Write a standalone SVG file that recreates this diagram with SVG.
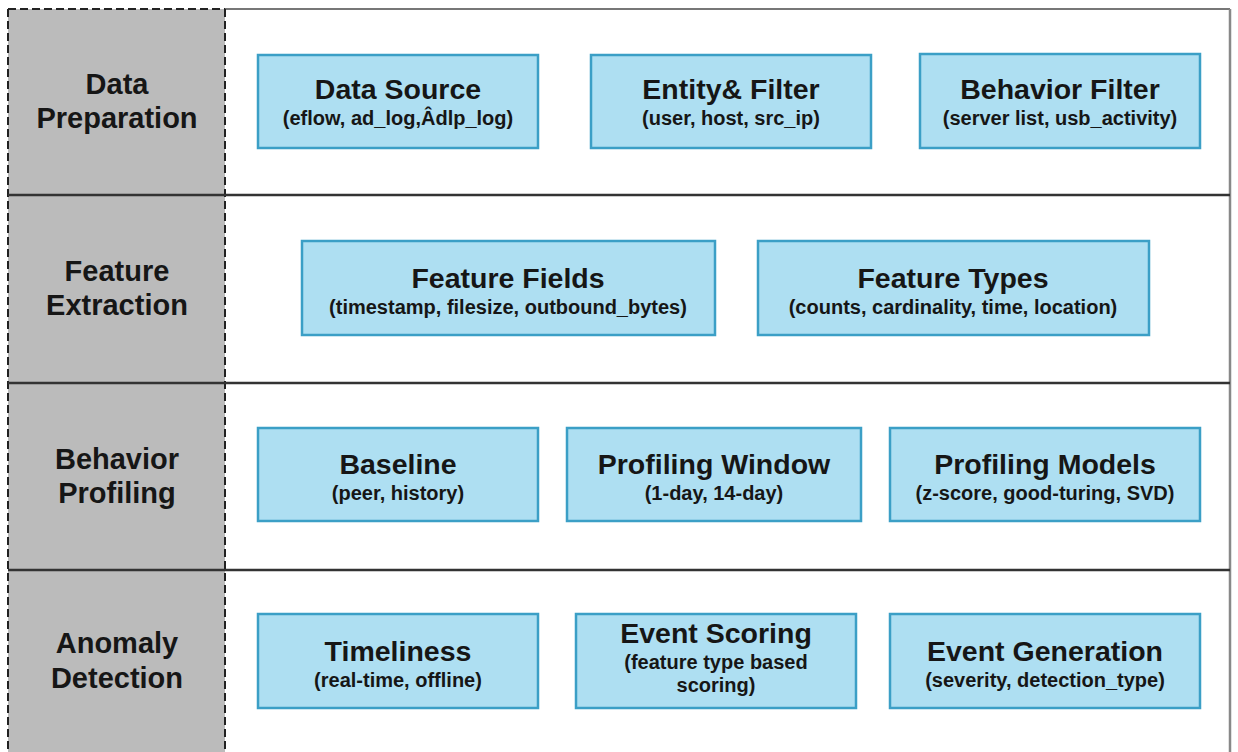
<svg xmlns="http://www.w3.org/2000/svg" width="1238" height="752" viewBox="0 0 1238 752">
<style>
.box{fill:#aedff2;stroke:#3b9fc6;stroke-width:2.5}
.t{font-family:"Liberation Sans",Arial,sans-serif;font-weight:bold;font-size:28.5px;fill:#161616;text-anchor:middle}
.s{font-family:"Liberation Sans",Arial,sans-serif;font-weight:bold;font-size:20px;fill:#161616;text-anchor:middle}
.lbl{font-family:"Liberation Sans",Arial,sans-serif;font-weight:bold;font-size:29px;fill:#161616;text-anchor:middle}
.div{stroke:#333;stroke-width:2.5}
</style>
<rect x="0" y="0" width="1238" height="752" fill="#ffffff"/>
<g id="frame">
<rect x="8" y="9" width="217" height="760" fill="#bbbbbb"/>
<line x1="225" y1="9" x2="1230" y2="9" stroke="#777" stroke-width="2"/>
<line x1="1230" y1="9" x2="1230" y2="752" stroke="#888" stroke-width="2.5"/>
<line x1="8" y1="9" x2="225" y2="9" stroke="#222" stroke-width="2" stroke-dasharray="8,4"/>
<line x1="8" y1="9" x2="8" y2="752" stroke="#222" stroke-width="2" stroke-dasharray="8,4"/>
<line x1="225" y1="9" x2="225" y2="752" stroke="#222" stroke-width="2" stroke-dasharray="8,4"/>
<line class="div" x1="8" y1="195" x2="1230" y2="195"/>
<line class="div" x1="8" y1="383" x2="1230" y2="383"/>
<line class="div" x1="8" y1="570" x2="1230" y2="570"/>
</g>
<g id="lane-labels">
<text class="lbl" x="117" y="94">Data</text>
<text class="lbl" x="117" y="128">Preparation</text>
<text class="lbl" x="117" y="281">Feature</text>
<text class="lbl" x="117" y="315">Extraction</text>
<text class="lbl" x="117" y="469">Behavior</text>
<text class="lbl" x="117" y="503">Profiling</text>
<text class="lbl" x="117" y="653">Anomaly</text>
<text class="lbl" x="117" y="688">Detection</text>
</g>
<g id="data-source">
<rect class="box" x="258" y="55" width="280" height="93"/>
<text class="t" x="398" y="99">Data Source</text>
<text class="s" x="398" y="125">(eflow, ad_log,Âdlp_log)</text>
</g>
<g id="entity-filter">
<rect class="box" x="591" y="55" width="280" height="93"/>
<text class="t" x="731" y="99">Entity&amp; Filter</text>
<text class="s" x="731" y="125">(user, host, src_ip)</text>
</g>
<g id="behavior-filter">
<rect class="box" x="920" y="54" width="280" height="94"/>
<text class="t" x="1060" y="99">Behavior Filter</text>
<text class="s" x="1060" y="125">(server list, usb_activity)</text>
</g>
<g id="feature-fields">
<rect class="box" x="302" y="241" width="413" height="94"/>
<text class="t" x="508" y="288">Feature Fields</text>
<text class="s" x="508" y="314">(timestamp, filesize, outbound_bytes)</text>
</g>
<g id="feature-types">
<rect class="box" x="758" y="241" width="391" height="94"/>
<text class="t" x="953" y="288">Feature Types</text>
<text class="s" x="953" y="314">(counts, cardinality, time, location)</text>
</g>
<g id="baseline">
<rect class="box" x="258" y="428" width="280" height="93"/>
<text class="t" x="398" y="474">Baseline</text>
<text class="s" x="398" y="500">(peer, history)</text>
</g>
<g id="profiling-window">
<rect class="box" x="567" y="428" width="294" height="93"/>
<text class="t" x="714" y="474">Profiling Window</text>
<text class="s" x="714" y="500">(1-day, 14-day)</text>
</g>
<g id="profiling-models">
<rect class="box" x="890" y="428" width="310" height="93"/>
<text class="t" x="1045" y="474">Profiling Models</text>
<text class="s" x="1045" y="500">(z-score, good-turing, SVD)</text>
</g>
<g id="timeliness">
<rect class="box" x="258" y="614" width="280" height="94"/>
<text class="t" x="398" y="661">Timeliness</text>
<text class="s" x="398" y="687">(real-time, offline)</text>
</g>
<g id="event-scoring">
<rect class="box" x="576" y="614" width="280" height="94"/>
<text class="t" x="716" y="643">Event Scoring</text>
<text class="s" x="716" y="669">(feature type based</text>
<text class="s" x="716" y="692">scoring)</text>
</g>
<g id="event-generation">
<rect class="box" x="890" y="614" width="310" height="94"/>
<text class="t" x="1045" y="661">Event Generation</text>
<text class="s" x="1045" y="687">(severity, detection_type)</text>
</g>
<g id="connectors"></g>
</svg>
